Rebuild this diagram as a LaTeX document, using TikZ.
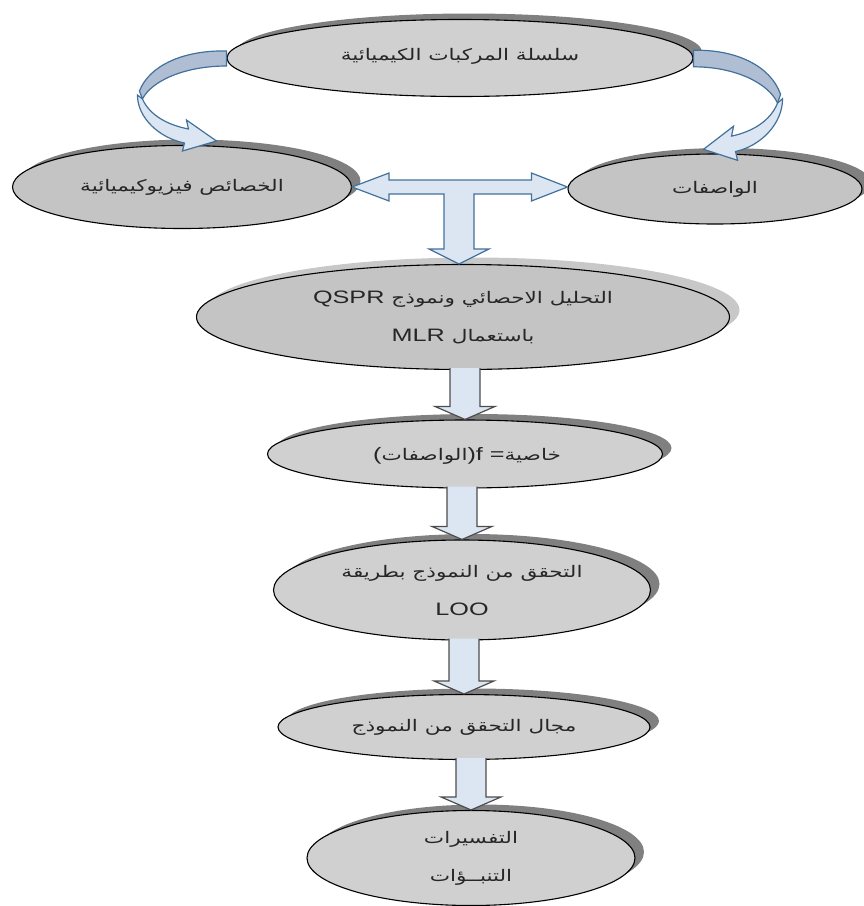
\documentclass[tikz,border=0pt]{standalone}
\usepackage{fontspec}
\setmainfont[FakeStretch=1.4]{Liberation Sans}
\newfontfamily\arabicfont[Script=Arabic,FakeStretch=1.35]{DejaVu Sans}
\TeXXeTstate=1
\usetikzlibrary{calc,shadows,shapes.geometric}
\newcommand\ar[1]{{\arabicfont\fontsize{16}{38}\selectfont\beginR #1\endR}}
\definecolor{txt}{HTML}{262626}
\definecolor{shdark}{HTML}{808080}
\definecolor{shlight}{HTML}{C8C8C8}
\definecolor{fillA}{HTML}{D0D0D0}
\definecolor{fillB}{HTML}{C4C4C4}
\definecolor{arrfill}{HTML}{DCE6F2}
\definecolor{arrdark}{HTML}{B0BED3}
\definecolor{arrline}{HTML}{41719C}
\definecolor{arrgray}{HTML}{4D4D4D}
\tikzset{
  ell/.style={ellipse, draw=black, line width=1.1pt, inner sep=0pt, align=center,
    text=txt, font=\fontsize{18}{38}\selectfont,
    drop shadow={shadow xshift=9pt, shadow yshift=6pt, fill=shdark, opacity=1}},
  ellL/.style={ellipse, draw=black, line width=1.1pt, inner sep=0pt, align=center,
    text=txt, font=\fontsize{18}{38}\selectfont,
    drop shadow={shadow xshift=10pt, shadow yshift=7pt, fill=shlight, opacity=1}},
  tn/.style={inner sep=0pt, outer sep=0pt, text=txt, font=\fontsize{18}{38}\selectfont},
  dblock/.style={fill=arrfill, draw=arrgray, line width=1.2pt, line join=miter},
  bblock/.style={fill=arrfill, draw=arrline, line width=1.2pt, line join=miter},
  bdark/.style={fill=arrdark, draw=arrline, line width=1.2pt, line join=miter}
}
\newcommand\downblock[2]{%
  \draw[dblock] ($(#2.north |- #1.south)+(-15,-2)$) -- ($(#2.north)+(-15,-13)$)
    -- ($(#2.north)+(-30,-13)$) -- (#2.north) -- ($(#2.north)+(30,-13)$)
    -- ($(#2.north)+(15,-13)$) -- ($(#2.north |- #1.south)+(15,-2)$);}
\begin{document}
\begin{tikzpicture}[x=1pt,y=-1pt]
\useasboundingbox (0,0) rectangle (864,906);
% ellipses
\node[ell, fill=fillA, minimum width=466, minimum height=77] (top) at (460,58)
  {\raisebox{7pt}{\ar{سلسلة المركبات الكيميائية}}};
\node[ell, fill=fillB, minimum width=339, minimum height=83] (pe) at (182,187)
  {\ar{الخصائص فيزيوكيميائية}};
\node[ell, fill=fillB, minimum width=294, minimum height=70] (de) at (715,189)
  {\ar{الواصفات}};
\node[ellL, fill=fillB, minimum width=533, minimum height=105] (e3) at (463,317)
  {\mbox{QSPR}\ \mbox{\ar{التحليل الاحصائي ونموذج}}\\ \mbox{MLR}\ \mbox{\ar{باستعمال}}};
\node[ell, fill=fillA, minimum width=395, minimum height=68] (e4) at (465,454) {};
\node[ell, fill=fillA, minimum width=377, minimum height=100] (e5) at (462,590)
  {\ar{التحقق من النموذج بطريقة}\\ LOO};
\node[ell, fill=fillA, minimum width=372, minimum height=65] (e6) at (464,727)
  {\ar{مجال التحقق من النموذج}};
\node[ell, fill=fillA, minimum width=328, minimum height=95] (e7) at (471,858)
  {\ar{التفسيرات}\\ \ar{التنبــؤات}};
% text of e4, set piece by piece from right to left
\node[tn, anchor=base east] (e4d) at ($(e4.center)+(96,6)$) {\ar{خاصية}};
\node[tn, anchor=base east] (e4c) at (e4d.base west) {)f =\ };
\node[tn, anchor=base east] (e4b) at (e4c.base west) {\ar{الواصفات}};
\node[tn, anchor=base east] (e4a) at (e4b.base west) {(};
% curved arrows
\begin{scope}[shift={(top.west)}]
  \draw[bdark] (0,-7) .. controls (-42,-8) and (-77,7) .. (-87,33) -- (-84,41)
     .. controls (-75,23) and (-42,8) .. (0,8) -- cycle;
  \draw[bblock] (-84,41) .. controls (-77,57) and (-59,67) .. (-38,71) -- (-40,62)
     -- (-10,83) -- (-44,93) -- (-42,85) .. controls (-67,80) and (-89,60) .. (-89,37) -- cycle;
\end{scope}
\begin{scope}[shift={(top.east)}, xscale=-1, yscale=1.1]
  \draw[bdark] (0,-7) .. controls (-42,-8) and (-77,7) .. (-87,33) -- (-84,41)
     .. controls (-75,23) and (-42,8) .. (0,8) -- cycle;
  \draw[bblock] (-84,41) .. controls (-77,57) and (-59,67) .. (-38,71) -- (-40,62)
     -- (-10,83) -- (-44,93) -- (-42,85) .. controls (-67,80) and (-89,60) .. (-89,37) -- cycle;
\end{scope}
% T arrow
\coordinate (tl) at (pe.east);
\coordinate (tr) at (de.west |- pe.east);
\draw[bblock] (tl) -- ($(tl)+(37,-14)$) -- ($(tl)+(37,-7)$) -- ($(tr)+(-36,-7)$)
  -- ($(tr)+(-36,-14)$) -- (tr) -- ($(tr)+(-36,14)$) -- ($(tr)+(-36,7)$)
  -- ($(e3.north |- tl)+(11,7)$) -- ($(e3.north)+(11,-15)$) -- ($(e3.north)+(26,-15)$)
  -- ($(e3.north)+(-4,0)$) -- ($(e3.north)+(-34,-15)$) -- ($(e3.north)+(-19,-15)$)
  -- ($(e3.north |- tl)+(-19,7)$) -- ($(tl)+(37,7)$) -- ($(tl)+(37,14)$) -- cycle;
% down arrows
\downblock{e3}{e4}
\downblock{e4}{e5}
\downblock{e5}{e6}
\downblock{e6}{e7}
\end{tikzpicture}
\end{document}
